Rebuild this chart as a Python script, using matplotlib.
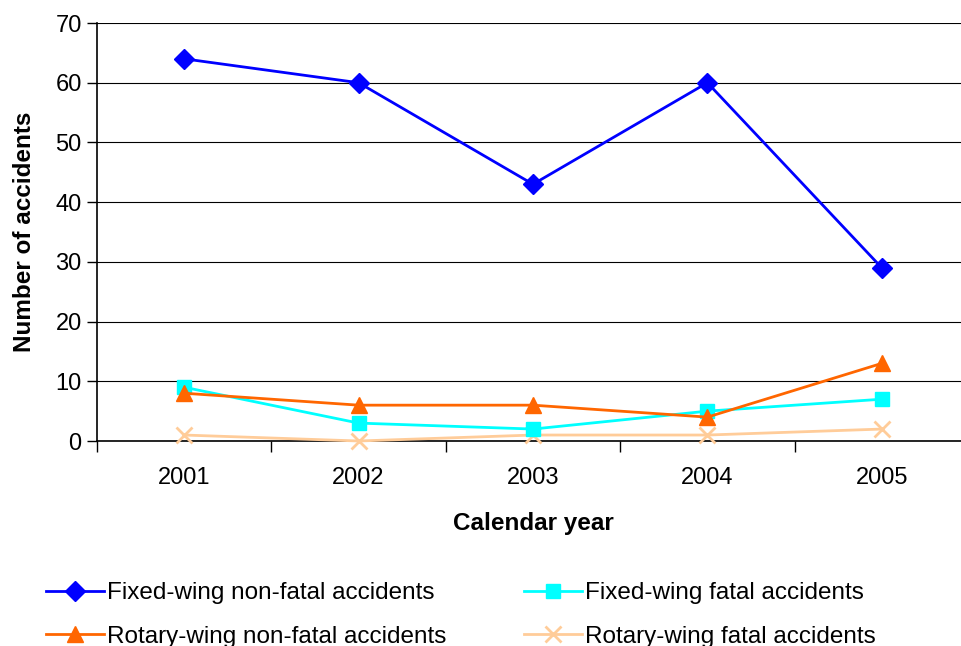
import numpy as np
import matplotlib
matplotlib.use('Agg')
import matplotlib.pyplot as plt

years = ['2001', '2002', '2003', '2004', '2005']
fixed_nonfatal = [64, 60, 43, 60, 29]
fixed_fatal = [9, 3, 2, 5, 7]
rotary_nonfatal = [8, 6, 6, 4, 13]
rotary_fatal = [1, 0, 1, 1, 2]

plt.rcParams['font.family'] = ['Liberation Sans', 'DejaVu Sans']

fig = plt.figure(figsize=(9.61, 6.46), dpi=100)
ax = fig.add_axes([97/961, 1 - 441/646, (969 - 97)/961, (441 - 23)/646])

x = np.arange(len(years))
h0, = ax.plot(x, fixed_nonfatal, color='#0000ff', marker='D', markersize=10, lw=2,
              label='Fixed-wing non-fatal accidents', clip_on=False, zorder=5)
h1, = ax.plot(x, fixed_fatal, color='#00ffff', marker='s', markersize=10, lw=2,
              label='Fixed-wing fatal accidents', clip_on=False, zorder=4)
h2, = ax.plot(x, rotary_nonfatal, color='#ff6600', marker='^', markersize=12, lw=2,
              label='Rotary-wing non-fatal accidents', clip_on=False, zorder=4)
h3, = ax.plot(x, rotary_fatal, color='#ffcc99', marker='x', markersize=11, mew=2, lw=2,
              label='Rotary-wing fatal accidents', clip_on=False, zorder=3)

ax.set_xlim(-0.5, len(years) - 0.5)
ax.set_ylim(0, 70)
ax.set_yticks(range(0, 71, 10))
ax.yaxis.grid(True, color='black', lw=0.8)
ax.set_axisbelow(True)

ax.set_xticks(x)
ax.set_xticklabels(years)
ax.set_xticks(np.arange(-0.5, len(years), 1), minor=True)
ax.tick_params(axis='x', which='major', length=0, pad=19, labelsize=17)
ax.tick_params(axis='x', which='minor', length=8, width=1)
ax.tick_params(axis='y', length=7, width=1, labelsize=17, pad=4)

for s in ['top', 'right']:
    ax.spines[s].set_visible(False)
ax.spines['left'].set_linewidth(1.2)
ax.spines['bottom'].set_linewidth(1.2)

ax.set_xlabel('Calendar year', fontsize=17.5, fontweight='bold', labelpad=16)
ax.set_ylabel('Number of accidents', fontsize=17.5, fontweight='bold', labelpad=14)

# legend filled row by row like the original
fig.legend([h0, h2, h1, h3],
           [h0.get_label(), h2.get_label(), h1.get_label(), h3.get_label()],
           loc='upper left', bbox_to_anchor=(46/961, 1 - 582/646), ncol=2, frameon=False,
           fontsize=17.5, handlelength=2.4, columnspacing=3.2, labelspacing=0.9,
           handletextpad=0.1, borderpad=0, borderaxespad=0)

fig.savefig('out.png', dpi=100)
